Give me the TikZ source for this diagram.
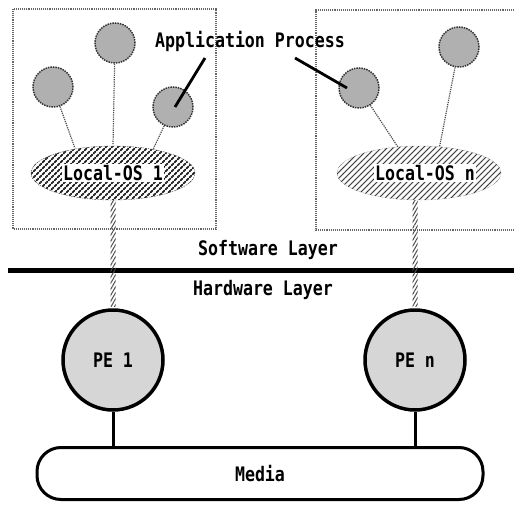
\documentclass[tikz,border=0pt]{standalone}
\usepackage{fontspec}
\newfontfamily\lblfont[FakeStretch=0.83]{DejaVu Sans Mono Bold}
\usetikzlibrary{patterns.meta,calc,shapes.geometric}
\begin{document}
\begin{tikzpicture}[x=1pt,y=-1pt,
  lbl/.style={font=\lblfont\fontsize{20}{20}\selectfont, inner sep=1pt},
  proc/.style={circle, minimum size=40pt, inner sep=0pt, fill=gray!62, draw=black!80, line width=1.5pt, densely dotted},
  osell/.style={ellipse, minimum width=164pt, minimum height=54pt, inner sep=0pt,
    pattern={Lines[angle=45,distance=4.2426pt,line width=1.6pt]}, pattern color=black, draw=black!70, densely dotted},
  ostext/.style={lbl, fill=white, inner sep=1.5pt},
  pe/.style={circle, minimum size=100pt, inner sep=0pt, fill=gray!32, draw=black, line width=3.5pt, lbl},
  media/.style={rectangle, rounded corners=24pt, minimum width=446pt, minimum height=52pt, draw=black, line width=3pt, lbl},
  thread/.style={draw=black!70, densely dotted, line width=1.2pt},
  boxline/.style={draw=black!60, densely dotted, line width=1.1pt},
  ptr/.style={draw=black, line width=2.8pt},
  hatchlink/.style={pattern={Lines[angle=60,distance=3pt,line width=1pt]}, pattern color=black!70},
  bus/.style={draw=black, line width=3pt}
]
\useasboundingbox (0,0) rectangle (514,511);

% dotted boxes
\draw[boxline] (13,9) rectangle (216,229);
\draw[boxline] (514,10) -- (316,10) -- (316,230) -- (514,230);

% separator
\coordinate (sepL) at (8,270);
\coordinate (sepR) at (514,270);
\draw[line width=5pt] (sepL) -- (sepR);
\node[lbl] (sw) at (268,250) {Software Layer};
\node[lbl] (hw) at (263,290) {Hardware Layer};

% OS ellipses
\node[osell] (os1) at (113,173) {};
\node[ostext] (os1t) at (113,173) {Local-OS 1};
\node[osell] (os2) at (419,173) {};
\node[ostext] (os2t) at (425,173) {Local-OS n};

% application processes
\node[proc] (p11) at (53,87) {};
\node[proc] (p12) at (115,43) {};
\node[proc] (p13) at (173,107) {};
\node[proc] (p21) at (359,88) {};
\node[proc] (p22) at (459,47) {};

\draw[thread] (p11) -- (os1.147);
\draw[thread] (p12) -- (os1.north);
\draw[thread] (p13) -- (os1.31);
\draw[thread] (p21) -- (os2.129);
\draw[thread] (p22) -- (os2.52);

% label and pointers
\node[lbl] (app) at (250,41) {Application Process};
\coordinate (ptrL) at (205,58);
\coordinate (ptrR) at (295,58);
\draw[ptr] (ptrL) -- ($(p13.center)+(2,0)$);
\draw[ptr] (ptrR) -- ($(p21.center)+(-12,0)$);

% PEs
\node[pe] (pe1) at (113,360) {PE 1};
\node[pe] (pe2) at (415,360) {PE n};

% hatched links
\fill[hatchlink] ($(os1.south)+(-2.5,0)$) rectangle ($(pe1.north)+(2.5,-2)$);
\fill[hatchlink] ($(pe2.north |- os2.south)+(-2.5,0)$) rectangle ($(pe2.north)+(2.5,-2)$);

% media
\node[media] (med) at (260,473.5) {Media};
\draw[bus] (pe1.south) -- (pe1.south |- med.north);
\draw[bus] (pe2.south) -- (pe2.south |- med.north);
\end{tikzpicture}
\end{document}
